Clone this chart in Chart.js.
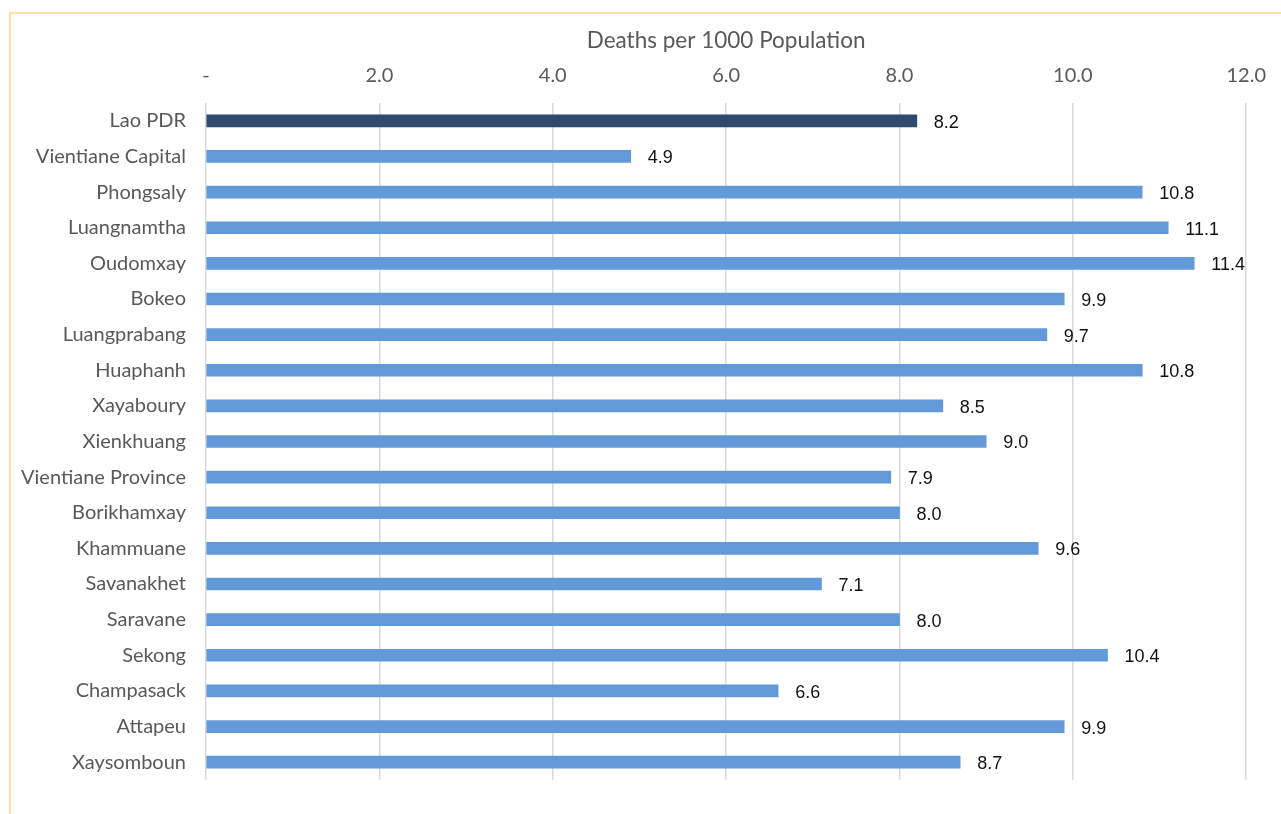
<!DOCTYPE html>
<html>
<head>
<meta charset="utf-8">
<script src="https://cdn.jsdelivr.net/npm/chart.js@4"></script>
<style>
  html, body { margin: 0; padding: 0; background: #fff; }
  #wrap { position: relative; width: 1281px; height: 814px; overflow: hidden; }
  #frame { position: absolute; left: 9px; top: 12px; width: 1300px; height: 830px;
           border: 2px solid #fbe2a4; box-sizing: border-box; pointer-events: none; }
  canvas { position: absolute; left: 0; top: 0; }
</style>
</head>
<body>
<div id="wrap">
  <canvas id="c" width="1281" height="814"></canvas>
  <div id="frame"></div>
</div>
<script>
// provinces, top to bottom
var provinces = ["Lao PDR", "Vientiane Capital", "Phongsaly", "Luangnamtha", "Oudomxay",
  "Bokeo", "Luangprabang", "Huaphanh", "Xayaboury", "Xienkhuang", "Vientiane Province",
  "Borikhamxay", "Khammuane", "Savanakhet", "Saravane", "Sekong", "Champasack",
  "Attapeu", "Xaysomboun"];
var deathRate = [8.2, 4.9, 10.8, 11.1, 11.4, 9.9, 9.7, 10.8, 8.5, 9.0, 7.9,
  8.0, 9.6, 7.1, 8.0, 10.4, 6.6, 9.9, 8.7];
var xTicks = [0, 2, 4, 6, 8, 10, 12];

var barColors = provinces.map(function(p, i){ return i === 0 ? "#2f4b6b" : "#6299d8"; });

// value labels to the right of each bar
var valueLabels = {
  id: "valueLabels",
  afterDatasetsDraw: function(chart){
    var ctx = chart.ctx;
    var meta = chart.getDatasetMeta(0);
    ctx.save();
    ctx.font = "18px 'Liberation Sans', Arial, sans-serif";
    ctx.fillStyle = "#111";
    ctx.textAlign = "left";
    ctx.textBaseline = "middle";
    meta.data.forEach(function(bar, i){
      ctx.fillText(deathRate[i].toFixed(1), bar.x + 17, bar.y + 2);
    });
    ctx.restore();
  }
};

var axisFont = { family: "Lato, sans-serif", size: 20 };

new Chart(document.getElementById("c"), {
  type: "bar",
  data: {
    labels: provinces,
    datasets: [{ data: deathRate, backgroundColor: barColors, barThickness: 12 }]
  },
  options: {
    indexAxis: "y",
    responsive: false,
    animation: false,
    layout: { padding: { top: 0, right: 30, bottom: 34, left: 0 } },
    plugins: { legend: { display: false }, tooltip: { enabled: false } },
    scales: {
      x: {
        position: "top",
        min: 0, max: 12,
        afterBuildTicks: function(scale){ scale.ticks = xTicks.map(function(v){ return { value: v }; }); },
        afterFit: function(scale){ scale.height = 103; },
        ticks: {
          color: "#595959", font: axisFont, padding: 15,
          callback: function(v){ return v === 0 ? "-" : v.toFixed(1); }
        },
        grid: { color: "#d9d9d9", lineWidth: 1.5, drawTicks: false },
        border: { display: false },
        title: { display: true, text: "Deaths per 1000 Population", color: "#595959",
                 font: { family: "Lato, sans-serif", size: 22.5 }, padding: { top: 27, bottom: 0 } }
      },
      y: {
        afterFit: function(scale){ scale.width = 206; },
        ticks: { color: "#595959", font: axisFont, padding: 12 },
        grid: { display: false },
        border: { display: false }
      }
    }
  },
  plugins: [valueLabels]
});
</script>
</body>
</html>
